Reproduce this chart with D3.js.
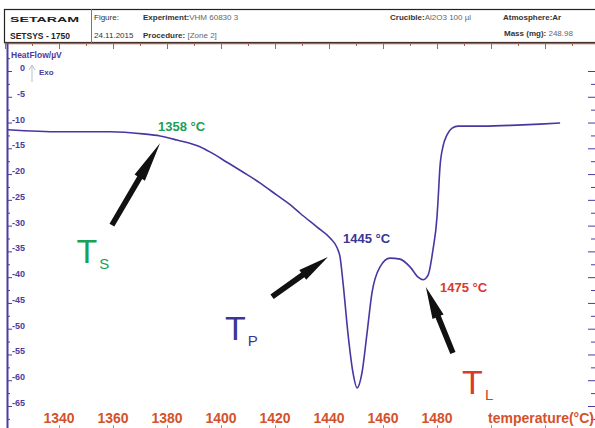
<!DOCTYPE html>
<html>
<head>
<meta charset="utf-8">
<script src="https://cdn.jsdelivr.net/npm/d3@7"></script>
<style>
body{margin:0;background:#fff;}
svg{display:block;font-family:Arial,"Liberation Sans",sans-serif;}
</style>
</head>
<body>
<div id="canvas"></div>
<script>
// DSC curve
var temps = [1321, 1340.4, 1358.9, 1371.1, 1377.4, 1383.7, 1392.2, 1395.9, 1402.2, 1408.1,
             1414.4, 1420.7, 1426.7, 1429.3, 1435.6, 1440.4, 1443.0, 1444.1, 1445.2, 1447.0,
             1448.9, 1450.4, 1452.2, 1454.1, 1455.9, 1458.9, 1462.6, 1466.3, 1470.0, 1473.0,
             1474.8, 1476.7, 1478.5, 1480.0, 1480.4, 1481.1, 1482.2, 1483.7, 1485.6, 1487.8,
             1497.0, 1509.6, 1518.1, 1525.6];
var heatFlow = [-11.4, -11.8, -11.8, -12.2, -12.6, -13.4, -14.7, -15.7, -17.7, -19.6,
                -21.7, -24.1, -26.4, -27.6, -30.3, -32.4, -34.3, -36.1, -41.1, -50.8,
                -58.6, -61.5, -58.6, -50.8, -43.1, -38.0, -36.3, -36.5, -38.0, -40.0,
                -40.5, -39.6, -34.7, -28.3, -25.0, -18.6, -14.7, -12.4, -11.1, -10.7,
                -10.7, -10.5, -10.3, -10.1];

var xTickValues = [1340, 1360, 1380, 1400, 1420, 1440, 1460, 1480];
var yTickValues = [0, -5, -10, -15, -20, -25, -30, -35, -40, -45, -50, -55, -60, -65];

// annotations: temperature label, arrow tail -> tip, big symbol, subscript
var noteLabels = ['1358 °C', '1445 °C', '1475 °C'];
var noteLabelAt = [[1376.7, -11.6], [1445.2, -33.4], [1481.1, -42.9]];
var arrowTail = [[1359.6, -29.9], [1418.9, -43.8], [1485.9, -54.7]];
var arrowTip = [[1377.4, -14.0], [1439.6, -36.1], [1475.9, -41.9]];
var symbolMain = ['T', 'T', 'T'];
var symbolSub = ['S', 'P', 'L'];
var symbolAt = [[1346.5, -37.3], [1401.5, -52.2], [1489.3, -62.7]];

var headerCells = [
  {t: 'Figure:', x: 94, y: 20, b: false},
  {t: 'Experiment:', x: 143, y: 20, b: true, rest: 'VHM 60830 3'},
  {t: '24.11.2015', x: 94, y: 38, b: false},
  {t: 'Procedure:', x: 143, y: 38, b: true, rest: ' [Zone 2]'},
  {t: 'Crucible:', x: 390, y: 20, b: true, rest: 'Al2O3 100 µl'},
  {t: 'Atmosphere:Ar', x: 503, y: 20, b: true},
  {t: 'Mass (mg):', x: 504, y: 36, b: true, rest: ' 248.98'}
];

var W = 595, H = 428;
var noteColors = ['#1c9f57', '#3b3593', '#d83a2b'];
var purple = '#4b3c9f', axisRed = '#d4522b', brown = '#b0604a';

var svg = d3.select('#canvas').append('svg')
    .attr('width', W).attr('height', H);

var x = d3.scaleLinear().domain([1340, 1480]).range([59, 437]);
var y = d3.scaleLinear().domain([0, -65]).range([71, 406]);
var xFull = x.copy().domain([x.invert(4), x.invert(595)]).range([4, 595]);
var yFull = y.copy().domain([y.invert(43), y.invert(428)]).range([43, 428]);

//header box
var head = svg.append('g').attr('class', 'header');
head.append('rect').attr('x', 4.5).attr('y', 9.5).attr('width', 600).attr('height', 33)
    .style('fill', 'none').style('stroke', '#222').style('stroke-width', 1.2);
head.append('line').attr('x1', 91.5).attr('x2', 91.5).attr('y1', 9).attr('y2', 43)
    .style('stroke', '#777');
head.append('text').attr('x', 10).attr('y', 22).text('SETARAM')
    .attr('textLength', 69).attr('lengthAdjust', 'spacingAndGlyphs')
    .style('font-size', '7.5px').style('font-weight', 'bold')
    .style('fill', '#222');
head.append('text').attr('x', 10).attr('y', 39).text('SETSYS - 1750')
    .style('font-size', '8.5px').style('font-weight', 'bold').style('fill', '#222');

head.selectAll('.cell').data(headerCells).enter()
    .append('text').attr('class', 'cell')
    .attr('x', function(d){return d.x}).attr('y', function(d){return d.y})
    .style('font-size', '8px').style('fill', '#333')
    .each(function(d){
        var t = d3.select(this);
        t.append('tspan').text(d.t).style('font-weight', d.b ? 'bold' : 'normal');
        if(d.rest) t.append('tspan').text(d.rest).style('fill', '#666');
    });

//top axis (temperature ticks along header)
svg.append('g').attr('transform', 'translate(0,43)')
    .call(d3.axisBottom(xFull).tickValues(d3.range(1320, 1540, 20)).tickSize(6).tickSizeOuter(0).tickFormat(''))
    .call(function(g){
        g.select('.domain').style('stroke', brown).style('stroke-width', 1.5);
        g.selectAll('.tick line').style('stroke', brown);
    });
svg.append('g').attr('transform', 'translate(0,43)')
    .call(d3.axisBottom(xFull).tickValues(d3.range(1330, 1540, 20)).tickSize(3).tickSizeOuter(0).tickFormat(''))
    .call(function(g){
        g.select('.domain').remove();
        g.selectAll('.tick line').style('stroke', brown);
    });

//bottom small ticks
svg.append('g').attr('transform', 'translate(0,428)')
    .call(d3.axisTop(xFull).tickValues(d3.range(1340, 1540, 20)).tickSize(3).tickSizeOuter(0).tickFormat(''))
    .call(function(g){
        g.select('.domain').remove();
        g.selectAll('.tick line').style('stroke', '#999');
    });

//left axis
svg.append('g').attr('transform', 'translate(7,0)')
    .call(d3.axisRight(yFull).tickValues(d3.range(2.5, -70, -5)).tickSize(3).tickSizeOuter(0).tickFormat(''))
    .call(function(g){
        g.select('.domain').style('stroke', purple).style('stroke-width', 2);
        g.selectAll('.tick line').style('stroke', purple);
    });
svg.append('g').attr('transform', 'translate(7,0)')
    .call(d3.axisRight(y).tickValues(yTickValues).tickSize(5).tickFormat(d3.format('d')))
    .call(function(g){
        g.select('.domain').remove();
        g.selectAll('.tick line').style('stroke', purple);
        g.selectAll('.tick text')
            .attr('x', 18).attr('dy', '0em').attr('y', -0.5)
            .style('text-anchor', 'end')
            .style('font-size', '9px').style('font-weight', 'bold')
            .style('font-family', 'Arial,"Liberation Sans",sans-serif')
            .style('fill', purple)
            .text(function(d){return d === 0 ? '0' : '-' + Math.abs(d)});
    });

//right axis ticks
svg.append('g').attr('transform', 'translate(595,0)')
    .call(d3.axisLeft(yFull).tickValues(d3.range(0, -70, -5)).tickSize(7).tickSizeOuter(0).tickFormat(''))
    .call(function(g){
        g.select('.domain').remove();
        g.selectAll('.tick line').style('stroke', purple);
    });
svg.append('g').attr('transform', 'translate(595,0)')
    .call(d3.axisLeft(yFull).tickValues(d3.range(-2.5, -70, -5)).tickSize(4).tickSizeOuter(0).tickFormat(''))
    .call(function(g){
        g.select('.domain').remove();
        g.selectAll('.tick line').style('stroke', purple);
    });

//y title and exo marker
svg.append('text').attr('x', 11).attr('y', 58).text('HeatFlow/µV')
    .style('font-size', '8.5px').style('font-weight', 'bold').style('fill', purple);
svg.append('line').attr('x1', 32).attr('x2', 32).attr('y1', 66).attr('y2', 82)
    .style('stroke', '#b8bfd0').style('stroke-width', 1);
svg.append('path').attr('d', 'M29,70 L32,65 L35,70')
    .style('fill', 'none').style('stroke', '#b8bfd0').style('stroke-width', 1);
svg.append('text').attr('x', 39).attr('y', 75).text('Exo')
    .style('font-size', '8px').style('font-weight', 'bold').style('fill', purple);

//x tick labels
svg.selectAll('.xlab').data(xTickValues).enter()
    .append('text').attr('class', 'xlab')
    .attr('x', function(d){return x(d)}).attr('y', 423)
    .attr('text-anchor', 'middle')
    .text(function(d){return d})
    .style('font-size', '14px').style('font-weight', 'bold').style('fill', axisRed);
svg.append('text').attr('x', 488).attr('y', 423).text('temperature(°C)')
    .style('font-size', '14px').style('font-weight', 'bold').style('fill', axisRed);

//curve
var data = temps.map(function(t, i){return {t: t, v: heatFlow[i]}});
var line = d3.line()
    .x(function(d){return x(d.t)}).y(function(d){return y(d.v)})
    .curve(d3.curveMonotoneX);
svg.append('path').datum(data)
    .attr('d', line)
    .style('fill', 'none').style('stroke', '#4a36a0').style('stroke-width', 1.6);

//arrows
function arrowPath(tail, tip){
    var x0 = x(tail[0]), y0 = y(tail[1]), x1 = x(tip[0]), y1 = y(tip[1]);
    var dx = x1 - x0, dy = y1 - y0, L = Math.sqrt(dx*dx + dy*dy),
        ux = dx/L, uy = dy/L, px = -uy, py = ux;
    var hw = 2.8, hb = 6, hl = Math.min(40, L*0.45);
    var bx = x1 - ux*hl, by = y1 - uy*hl;
    var pts = [
        [x0 + px*hw, y0 + py*hw], [bx + px*hw, by + py*hw], [bx + px*hb, by + py*hb],
        [x1, y1],
        [bx - px*hb, by - py*hb], [bx - px*hw, by - py*hw], [x0 - px*hw, y0 - py*hw]
    ];
    return 'M' + pts.map(function(p){return p[0].toFixed(1) + ',' + p[1].toFixed(1)}).join('L') + 'Z';
}
svg.selectAll('.arrow').data(arrowTail).enter()
    .append('path').attr('class', 'arrow')
    .attr('d', function(d, i){return arrowPath(d, arrowTip[i])})
    .style('fill', '#111');

//temperature notes
svg.selectAll('.note').data(noteLabels).enter()
    .append('text').attr('class', 'note')
    .attr('x', function(d, i){return x(noteLabelAt[i][0])})
    .attr('y', function(d, i){return y(noteLabelAt[i][1])})
    .text(function(d){return d})
    .style('font-size', '13px').style('font-weight', 'bold')
    .style('fill', function(d, i){return noteColors[i]});

//T symbols
svg.selectAll('.sym').data(symbolMain).enter()
    .append('text').attr('class', 'sym')
    .attr('x', function(d, i){return x(symbolAt[i][0])})
    .attr('y', function(d, i){return y(symbolAt[i][1])})
    .style('fill', function(d, i){return noteColors[i]})
    .each(function(d, i){
        var t = d3.select(this);
        t.append('tspan').text(d).style('font-size', '34px');
        t.append('tspan').text(symbolSub[i]).attr('dx', 2).attr('dy', 6).style('font-size', '15px');
    });
</script>
</body>
</html>
